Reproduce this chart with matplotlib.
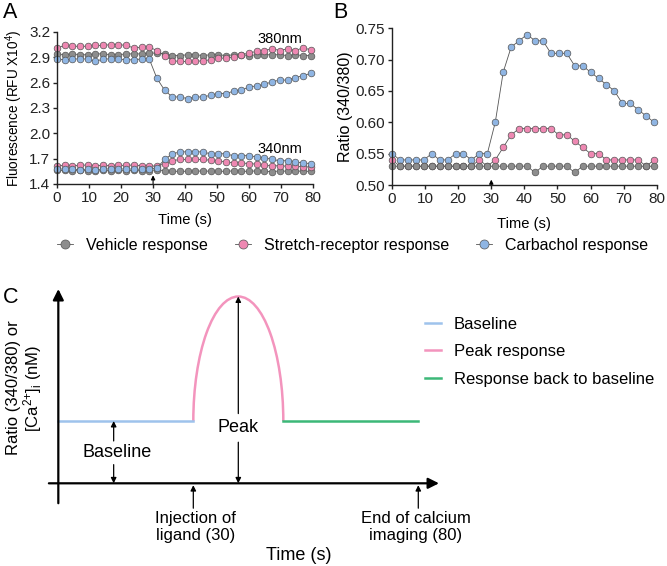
import numpy as np
import matplotlib
matplotlib.use('Agg')
import matplotlib.pyplot as plt
from matplotlib.patches import Arc
from matplotlib.lines import Line2D

plt.rcParams['font.family'] = ['Liberation Sans', 'DejaVu Sans']
plt.rcParams['mathtext.fontset'] = 'custom'
plt.rcParams['mathtext.rm'] = 'Liberation Sans'
plt.rcParams['mathtext.it'] = 'Liberation Sans:italic'
plt.rcParams['axes.linewidth'] = 1.0

# sampling times (s)
t = np.arange(34) * 2.4

# panel A, 380 nm (RFU x10^4)
a380_vehicle = [2.94, 2.93, 2.94, 2.93, 2.93, 2.94, 2.94, 2.93, 2.93, 2.94, 2.94, 2.94, 2.95, 2.95, 2.94, 2.92, 2.92,
                2.93, 2.93, 2.92, 2.93, 2.93, 2.92, 2.93, 2.93, 2.92, 2.93, 2.93, 2.93, 2.93, 2.92, 2.93, 2.92, 2.92]
a380_stretch = [3.01, 3.04, 3.03, 3.03, 3.03, 3.04, 3.04, 3.05, 3.05, 3.04, 3.01, 3.02, 3.02, 2.98, 2.92, 2.86, 2.85,
                2.85, 2.85, 2.86, 2.87, 2.89, 2.89, 2.90, 2.93, 2.95, 2.97, 2.98, 3.00, 2.98, 3.00, 2.98, 3.01, 2.99]
a380_carbachol = [2.88, 2.87, 2.88, 2.88, 2.88, 2.85, 2.88, 2.88, 2.88, 2.87, 2.87, 2.88, 2.88, 2.65, 2.51, 2.43, 2.43,
                  2.41, 2.43, 2.43, 2.45, 2.47, 2.47, 2.50, 2.51, 2.55, 2.56, 2.58, 2.61, 2.63, 2.63, 2.66, 2.68, 2.71]
# panel A, 340 nm
a340_vehicle = [1.56, 1.56, 1.555, 1.56, 1.555, 1.55, 1.56, 1.555, 1.56, 1.555, 1.56, 1.555, 1.555, 1.57, 1.555, 1.55,
                1.55, 1.55, 1.55, 1.555, 1.55, 1.55, 1.55, 1.555, 1.55, 1.55, 1.555, 1.55, 1.545, 1.555, 1.55, 1.555,
                1.55, 1.55]
a340_stretch = [1.615, 1.62, 1.615, 1.62, 1.625, 1.615, 1.62, 1.615, 1.62, 1.62, 1.625, 1.615, 1.615, 1.61, 1.64,
                1.675, 1.69, 1.69, 1.69, 1.69, 1.68, 1.67, 1.66, 1.65, 1.65, 1.64, 1.635, 1.62, 1.615, 1.615, 1.61,
                1.61, 1.605, 1.60]
a340_carbachol = [1.58, 1.575, 1.575, 1.57, 1.575, 1.57, 1.575, 1.58, 1.575, 1.58, 1.575, 1.575, 1.575, 1.59, 1.69,
                  1.755, 1.78, 1.78, 1.78, 1.78, 1.755, 1.755, 1.76, 1.73, 1.735, 1.735, 1.72, 1.71, 1.69, 1.675,
                  1.675, 1.66, 1.65, 1.64]

# panel B, ratio 340/380
b_vehicle = [0.53] * 18 + [0.52] + [0.53] * 4 + [0.52] + [0.53] * 10
b_stretch = [0.54, 0.53, 0.53, 0.53, 0.53, 0.53, 0.53, 0.53, 0.53, 0.53, 0.53, 0.54, 0.53, 0.54, 0.56, 0.58, 0.59,
             0.59, 0.59, 0.59, 0.59, 0.58, 0.58, 0.57, 0.56, 0.55, 0.55, 0.54, 0.54, 0.54, 0.54, 0.54, 0.53, 0.54]
b_carbachol = [0.55, 0.54, 0.54, 0.54, 0.54, 0.55, 0.54, 0.54, 0.55, 0.55, 0.54, 0.55, 0.55, 0.60, 0.68, 0.72, 0.73,
               0.74, 0.73, 0.73, 0.71, 0.71, 0.71, 0.69, 0.69, 0.68, 0.67, 0.66, 0.65, 0.63, 0.63, 0.62, 0.61, 0.60]

# panel C schematic (time s, level in baseline units)
c_baseline_t = [0, 30]
c_back_t = [50, 80]
c_level = 1
c_peak_t = 40
c_peak = 3
c_injection = 30
c_end = 80

GRAY = '#8d8d8d'
PINK = '#ee88b2'
BLUE = '#8fb5e3'
EDGE = '#555555'
series_style = dict(marker='o', markersize=4.8, markeredgecolor=EDGE, markeredgewidth=0.5,
                    color='#555555', linewidth=0.6)

fig = plt.figure(figsize=(6.67, 5.66), dpi=100)


def style_axes(ax):
    ax.spines['top'].set_visible(False)
    ax.spines['right'].set_visible(False)
    ax.tick_params(labelsize=11, length=3, width=1, colors='#222222', pad=2)
    ax.set_xlim(0, 80)
    ax.set_xticks(range(0, 81, 10))
    for sp in ax.spines.values():
        sp.set_color('#222222')


# ---- panel A
axA = fig.add_axes([0.0855, 0.675, 0.384, 0.2686])
style_axes(axA)
for y, c in [(a380_vehicle, GRAY), (a340_vehicle, GRAY), (a380_stretch, PINK), (a340_stretch, PINK),
             (a380_carbachol, BLUE), (a340_carbachol, BLUE)]:
    axA.plot(t, y, markerfacecolor=c, clip_on=False, **series_style)
axA.set_ylim(1.4, 3.2)
axA.set_yticks([1.4, 1.7, 2.0, 2.3, 2.6, 2.9, 3.2])
axA.set_xlabel('Time (s)', fontsize=10.6, labelpad=6)
axA.set_ylabel('Fluorescence (RFU X10$^4$)', fontsize=9.8, labelpad=3)
axA.text(69.5, 3.12, '380nm', fontsize=10.5, ha='center', va='center')
axA.text(69.5, 1.81, '340nm', fontsize=10.5, ha='center', va='center')
axA.annotate('', xy=(30, 1.535), xytext=(30, 1.37), annotation_clip=False,
             arrowprops=dict(arrowstyle='-|>', lw=0.8, color='k', mutation_scale=6))

# ---- panel B
axB = fig.add_axes([0.5877, 0.6731, 0.397, 0.277])
style_axes(axB)
for y, c in [(b_carbachol, BLUE), (b_stretch, PINK), (b_vehicle, GRAY)]:
    axB.plot(t, y, markerfacecolor=c, clip_on=False, **series_style)
axB.set_ylim(0.50, 0.75)
axB.set_yticks([0.50, 0.55, 0.60, 0.65, 0.70, 0.75])
axB.set_yticklabels(['%.2f' % v for v in [0.50, 0.55, 0.60, 0.65, 0.70, 0.75]])
axB.set_xlabel('Time (s)', fontsize=10.6, labelpad=8)
axB.set_ylabel('Ratio (340/380)', fontsize=11.5, labelpad=2)
axB.annotate('', xy=(30, 0.513), xytext=(30, 0.497), annotation_clip=False,
             arrowprops=dict(arrowstyle='-|>', lw=0.8, color='k', mutation_scale=6))

# shared legend
handles = [Line2D([], [], markerfacecolor=c, label=l, **series_style)
           for c, l in [(GRAY, 'Vehicle response'), (PINK, 'Stretch-receptor response'), (BLUE, 'Carbachol response')]]
for h in handles:
    h.set_markersize(6.5)
fig.legend(handles=handles, loc='center', bbox_to_anchor=(0.529, 0.567), ncol=3, frameon=False,
           fontsize=11.5, handlelength=1.0, columnspacing=1.7, handletextpad=0.8)

# panel letters
fig.text(0.004, 0.978, 'A', fontsize=15.5, va='center')
fig.text(0.499, 0.978, 'B', fontsize=15.5, va='center')
fig.text(0.004, 0.475, 'C', fontsize=15.5, va='center')

# ---- panel C
axC = fig.add_axes([0.0672, 0.1076, 0.6004, 0.385])
axC.set_xlim(-3, 86)
axC.set_ylim(-0.35, 3.15)
axC.axis('off')
arr = dict(arrowstyle='-|>', lw=1.6, color='k', mutation_scale=16, shrinkA=0, shrinkB=0)
axC.annotate('', xy=(0, 3.12), xytext=(0, -0.32), arrowprops=arr, annotation_clip=False)
axC.annotate('', xy=(84.6, 0), xytext=(-2.1, 0), arrowprops=arr, annotation_clip=False)

axC.plot(c_baseline_t, [c_level, c_level], color='#9ec3ec', lw=1.8)
axC.add_patch(Arc((c_peak_t, c_level), 2 * (c_peak_t - c_injection), 2 * (c_peak - c_level),
                  theta1=0, theta2=180, color='#f394bd', lw=1.8))
axC.plot(c_back_t, [c_level, c_level], color='#3cb878', lw=1.8)

small = dict(arrowstyle='-|>', lw=0.9, color='k', mutation_scale=8, shrinkA=0, shrinkB=0)
# baseline double arrow
axC.text(13, 0.49, 'Baseline', fontsize=13, ha='center', va='center', zorder=5)
axC.annotate('', xy=(12.3, c_level), xytext=(12.3, 0.68), arrowprops=small, zorder=5)
axC.annotate('', xy=(12.3, 0), xytext=(12.3, 0.3), arrowprops=small, zorder=5)
# peak double arrow
axC.text(c_peak_t, 0.89, 'Peak', fontsize=13, ha='center', va='center', zorder=5)
axC.annotate('', xy=(c_peak_t, c_peak), xytext=(c_peak_t, 1.12), arrowprops=small, zorder=5)
axC.annotate('', xy=(c_peak_t, 0), xytext=(c_peak_t, 0.66), arrowprops=small, zorder=5)
# injection / end markers
axC.annotate('', xy=(c_injection, -0.03), xytext=(c_injection, -0.4), arrowprops=small, annotation_clip=False)
axC.annotate('', xy=(c_end, -0.03), xytext=(c_end, -0.4), arrowprops=small, annotation_clip=False)
axC.text(c_injection + 0.5, -0.45, 'Injection of\nligand (30)', fontsize=12, ha='center', va='top',
         linespacing=1.12)
axC.text(c_end - 0.5, -0.45, 'End of calcium\nimaging (80)', fontsize=12, ha='center', va='top',
         linespacing=1.12)
axC.text(53.5, -1.16, 'Time (s)', fontsize=13, ha='center', va='center')
axC.text(-7.4, 1.53, 'Ratio (340/380) or\n[Ca$^{2{+}}$]$_\\mathregular{i}$ (nM)', fontsize=12, ha='center',
         va='center', rotation=90, linespacing=1.05)

fig.legend(handles=[Line2D([], [], color='#9ec3ec', lw=1.8, label='Baseline'),
                    Line2D([], [], color='#f394bd', lw=1.8, label='Peak response'),
                    Line2D([], [], color='#3cb878', lw=1.8, label='Response back to baseline')],
           loc='center left', bbox_to_anchor=(0.614, 0.3786), frameon=False, fontsize=12,
           handlelength=1.0, handletextpad=0.75, labelspacing=0.75)

fig.savefig('out.png', dpi=100)
